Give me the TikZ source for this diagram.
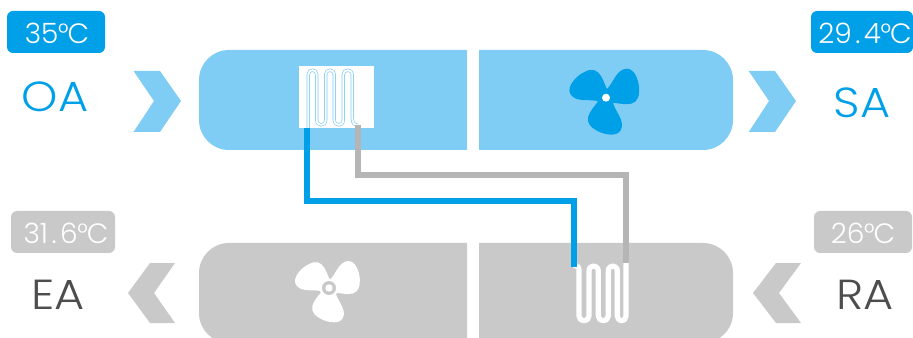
\documentclass[tikz,border=0pt]{standalone}
\usepackage{fontspec}
\setmainfont{Poppins Light}
\newfontfamily\labelfont[FakeStretch=1.1]{Poppins Light}
\definecolor{hblue}{HTML}{00A0E9}
\definecolor{lblue}{HTML}{7FCDF4}
\definecolor{hgray}{HTML}{C9C9C9}
\definecolor{pgray}{HTML}{B5B5B5}
\definecolor{dtext}{HTML}{4D4D4D}
\newcommand{\dg}{\kern-0.3pt\raisebox{0.6pt}{\fontsize{20}{20}\selectfont°}\kern-0.8pt}
\newcommand{\pt}{\kern2.6pt.\kern2.6pt}
\tikzset{
 badgetext/.style={inner sep=0pt,text=white,font=\fontsize{21}{21}\selectfont},
 airlabel/.style={inner sep=0pt,font=\labelfont\fontsize{31.5}{32}\selectfont},
 pipe/.style={line width=4pt,line join=miter},
}
\newcommand{\fanblades}[4]{%
 \foreach \a in {0,120,240}{
  \fill[#3,shift={(#1,#2)},rotate=\a,scale=#4]
   (0,-8) .. controls (7,-13) and (10,-29) .. (21,-29)
   .. controls (30,-29) and (34,-13) .. (33,-6)
   .. controls (33,3) and (28,6.5) .. (21,6.5)
   .. controls (15,6.5) and (10,5) .. (5,5) -- cycle;
 }}
\newcommand{\leftround}[5]{%
 \fill[#5] (#2,#3) -- (#1+30,#3) .. controls (#1+13.4,#3) and (#1,#3+13.4) .. (#1,#3+30)
  -- (#1,#4-30) .. controls (#1,#4-13.4) and (#1+13.4,#4) .. (#1+30,#4) -- (#2,#4) -- cycle;}
\newcommand{\rightround}[5]{%
 \fill[#5] (#1,#3) -- (#2-30,#3) .. controls (#2-13.4,#3) and (#2,#3+13.4) .. (#2,#3+30)
  -- (#2,#4-30) .. controls (#2,#4-13.4) and (#2-13.4,#4) .. (#2-30,#4) -- (#1,#4) -- cycle;}
\begin{document}
\begin{tikzpicture}[x=0.75pt,y=-0.75pt]
\useasboundingbox (0,0) rectangle (913,338);
\clip (0,0) rectangle (913,338);
% panels
\leftround{199}{467}{50}{150}{lblue}
\rightround{479}{733}{50}{150}{lblue}
\leftround{199}{467}{243}{343}{hgray}
\rightround{479}{733}{243}{343}{hgray}
% badges
\fill[hblue,rounded corners=4.5pt] (7,11) rectangle (105,53);
\fill[hblue,rounded corners=4.5pt] (811,11) rectangle (913,53);
\fill[hgray,rounded corners=4.5pt] (11,211) rectangle (115,253);
\fill[hgray,rounded corners=4.5pt] (814,211) rectangle (912,253);
\node[badgetext] (t35) at (57,33) {35\dg C};
\node[badgetext] (t294) at (865,33) {29\pt4\dg C};
\node[badgetext] (t316) at (66,233) {31\pt6\dg C};
\node[badgetext] (t26) at (863,233) {26\dg C};
% labels
\node[airlabel,text=hblue] (oa) at (55,97) {OA};
\node[airlabel,text=hblue] (sa) at (862,103) {SA};
\node[airlabel,text=dtext] (ea) at (58,295) {EA};
\node[airlabel,text=dtext] (ra) at (865,295) {RA};
% chevrons
\fill[lblue] (133.5,71) -- (160,71) -- (181,101) -- (160,132) -- (133.5,132) -- (154,101) -- cycle;
\fill[lblue] (748.7,71) -- (775,71) -- (796,101) -- (775,132) -- (748.7,132) -- (769,101) -- cycle;
\fill[hgray] (175,263) -- (150,263) -- (128,293) -- (150,323) -- (175,323) -- (154,293) -- cycle;
\fill[hgray] (801,263) -- (776,263) -- (753,293) -- (776,323) -- (801,323) -- (779,293) -- cycle;
% upper coil
\fill[white] (299,66) rectangle (374,128);
\def\uppercoil{(308.3,128) -- (308.3,74.5) .. controls (308.3,68.8) and (316.7,68.8) .. (316.7,74.5)
 -- (316.7,120) .. controls (316.7,126.5) and (325.7,126.5) .. (325.7,120)
 -- (325.7,74.5) .. controls (325.7,68.8) and (334.3,68.8) .. (334.3,74.5)
 -- (334.3,120) .. controls (334.3,126.5) and (343.3,126.5) .. (343.3,120)
 -- (343.3,74.5) .. controls (343.3,68.8) and (352.3,68.8) .. (352.3,74.5)
 -- (352.3,118) .. controls (352.3,124) and (355,125) .. (358,125)}
\draw[lblue,line width=2.4pt] \uppercoil;
\draw[white,line width=1.4pt] \uppercoil;
% lower coil
\draw[white,line width=3.9pt,line join=round]
 (574,265.5) .. controls (577,265.5) and (579,266.5) .. (579,270)
 -- (579,316) .. controls (579,322.3) and (589,322.3) .. (589,316)
 -- (589,271) .. controls (589,264.3) and (598.3,264.3) .. (598.3,271)
 -- (598.3,316) .. controls (598.3,322.3) and (608.3,322.3) .. (608.3,316)
 -- (608.3,271) .. controls (608.3,264.3) and (617.3,264.3) .. (617.3,271)
 -- (617.3,316) .. controls (617.3,322.3) and (626,322.3) .. (626,316)
 -- (626,263);
% pipes
\coordinate (bluestart) at (307,128);
\coordinate (blueend) at (574,267);
\coordinate (graystart) at (358,125);
\coordinate (grayend) at (626,263);
\draw[pipe,hblue] (bluestart) |- (440,201) -| (blueend);
\draw[pipe,pgray] (graystart) |- (490,175) -| (grayend);
% fans
\fanblades{606}{97.7}{hblue}{1}
\fill[hblue] (606,97.7) circle[radius=8];
\fill[white] (606,97.7) circle[radius=4];
\fanblades{329}{288}{white}{0.93}
\fill[white] (329,288) circle[radius=9.5];
\fill[hgray] (329,288) circle[radius=7];
\fill[white] (329,288) circle[radius=3.7];
\end{tikzpicture}
\end{document}
